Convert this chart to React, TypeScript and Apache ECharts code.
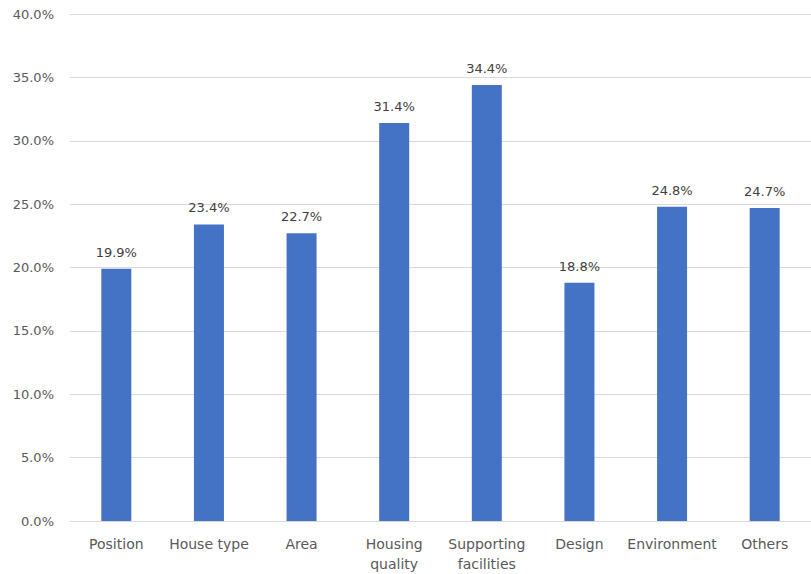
import React, { useEffect, useRef } from "react";
import * as echarts from "echarts";

const categories = [
  "Position",
  "House type",
  "Area",
  "Housing\nquality",
  "Supporting\nfacilities",
  "Design",
  "Environment",
  "Others",
];
const values = [19.9, 23.4, 22.7, 31.4, 34.4, 18.8, 24.8, 24.7];
const yTicks = { min: 0, max: 40, interval: 5 };

const FONT = "DejaVu Sans";

export default function App() {
  const ref = useRef<HTMLDivElement>(null);
  useEffect(() => {
    document.body.style.margin = "0";
    document.body.style.overflow = "hidden";
    const chart = echarts.init(ref.current!, null, { renderer: "svg" });
    chart.setOption({
      animation: false,
      backgroundColor: "#ffffff",
      grid: { left: 70, right: -9, top: 14, bottom: 53, containLabel: false },
      xAxis: {
        type: "category",
        data: categories,
        axisLine: { lineStyle: { color: "#D9D9D9", width: 1 } },
        axisTick: { show: false },
        axisLabel: {
          color: "#595959",
          fontFamily: FONT,
          fontSize: 14,
          lineHeight: 20,
          margin: 13,
          interval: 0,
        },
      },
      yAxis: {
        type: "value",
        min: yTicks.min,
        max: yTicks.max,
        interval: yTicks.interval,
        axisLine: { show: false },
        axisTick: { show: false },
        splitLine: { lineStyle: { color: "#D9D9D9", width: 1 } },
        axisLabel: {
          color: "#595959",
          fontFamily: FONT,
          fontSize: 13,
          margin: 16,
          formatter: (v: number) => v.toFixed(1) + "%",
        },
      },
      series: [
        {
          type: "bar",
          data: values,
          barWidth: 30,
          itemStyle: { color: "#4472C4" },
          label: {
            show: true,
            position: "top",
            distance: 10,
            color: "#404040",
            fontFamily: FONT,
            fontSize: 13,
            formatter: (p: any) => p.value.toFixed(1) + "%",
          },
        },
      ],
    });
    return () => chart.dispose();
  }, []);
  return <div ref={ref} style={{ width: 811, height: 574 }} />;
}
